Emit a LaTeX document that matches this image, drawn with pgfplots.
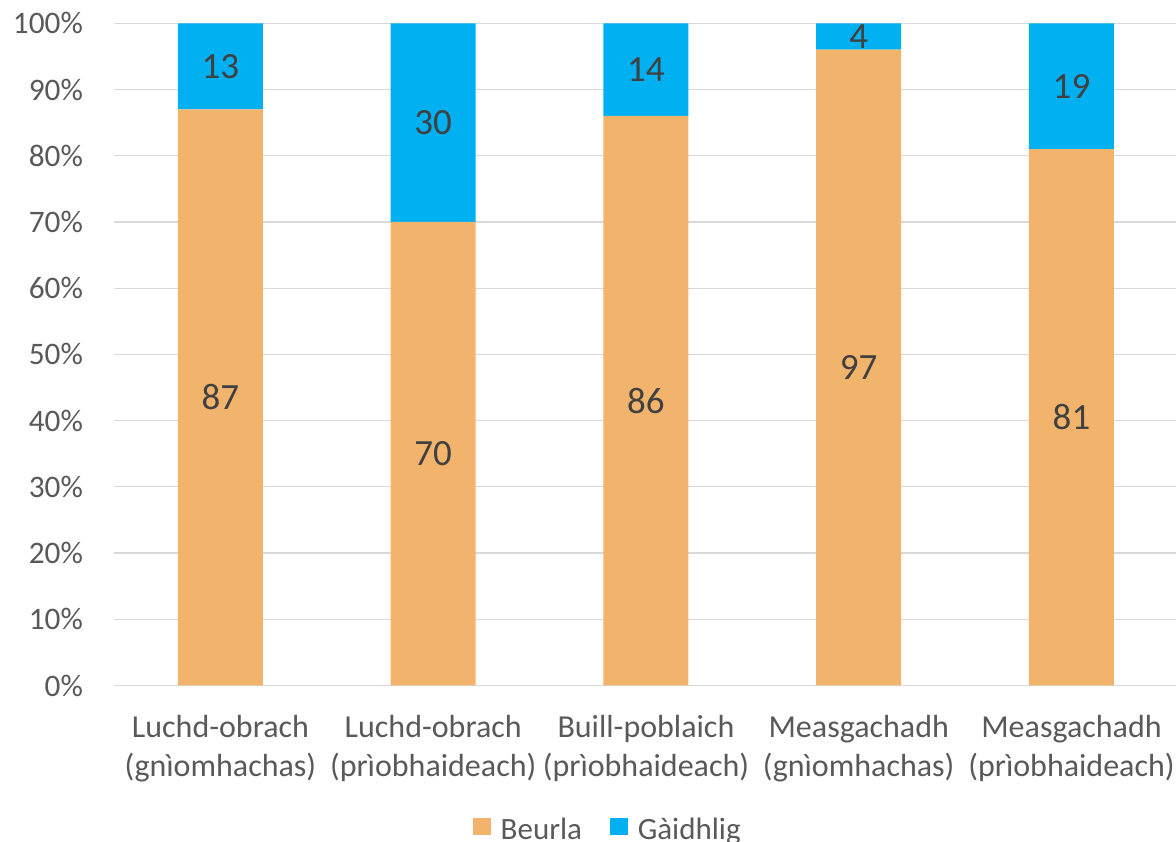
\documentclass[border=0pt]{standalone}
\usepackage{pgfplots}
\usepackage{pgfplotstable}
\pgfplotsset{compat=1.18}
\usepackage{fontspec}
\setmainfont{Carlito}
\definecolor{beurla}{RGB}{242,180,108}
\definecolor{gaidhlig}{RGB}{0,176,240}
\definecolor{ticktext}{RGB}{89,89,89}
\definecolor{labeltext}{RGB}{64,64,64}
\definecolor{gridc}{RGB}{217,217,217}
\pgfplotsset{sqlegend/.style={legend image code/.code={\path[##1, draw=none] (0pt,-6.3pt) rectangle (17.7pt,11.4pt);}}}
\pgfplotstableread{
x beurla bpct gaidhlig gpct
0 87 87 13 13
1 70 70 30 30
2 86 86 14 14
3 97 96.04 4 3.96
4 81 81 19 19
}\datatable
\begin{document}
\begin{tikzpicture}
\useasboundingbox (0,0) rectangle (1176pt,842pt);
\begin{axis}[
  at={(114.1pt,156.5pt)}, anchor=south west,
  scale only axis, width=1063.8pt, height=662.2pt,
  ybar stacked, bar width=85pt,
  xmin=-0.5, xmax=4.5, ymin=0, ymax=100,
  xtick={0,1,2,3,4},
  xticklabels={{Luchd-obrach\\(gnìomhachas)},{Luchd-obrach\\(prìobhaideach)},{Buill-poblaich\\(prìobhaideach)},{Measgachadh\\(gnìomhachas)},{Measgachadh\\(prìobhaideach)}},
  ytick={0,10,20,30,40,50,60,70,80,90,100},
  yticklabels={0\%,10\%,20\%,30\%,40\%,50\%,60\%,70\%,80\%,90\%,100\%},
  ymajorgrids, grid style={draw=gridc, line width=1.3pt},
  axis line style={draw=none},
  major tick length=0pt,
  xticklabel style={align=center, anchor=north, inner sep=0pt, yshift=-30pt, font=\fontsize{32}{38.5}\selectfont, text=ticktext},
  yticklabel style={anchor=east, inner sep=0pt, xshift=-31pt, font=\fontsize{31.3}{36}\selectfont, text=ticktext},
  nodes near coords,
  point meta=explicit symbolic,
  every node near coord/.append style={anchor=center, font=\fontsize{37}{40}\selectfont, text=labeltext},
  legend columns=2,
  legend style={at={(0.3374,-0.2167)}, anchor=west, draw=none, fill=none, inner sep=0pt, outer sep=0pt,
    font=\fontsize{31}{34}\selectfont, text=ticktext,
    column sep=0pt,
    /tikz/every odd column/.append style={column sep=8pt},
    /tikz/every even column/.append style={column sep=26pt}},
]
\addplot[fill=beurla, draw=none, sqlegend]
  table[x=x, y=bpct, meta=beurla] {\datatable};
\addplot[fill=gaidhlig, draw=none, sqlegend]
  table[x=x, y=gpct, meta=gaidhlig] {\datatable};
\legend{Beurla, Gàidhlig}
\end{axis}
\end{tikzpicture}
\end{document}
